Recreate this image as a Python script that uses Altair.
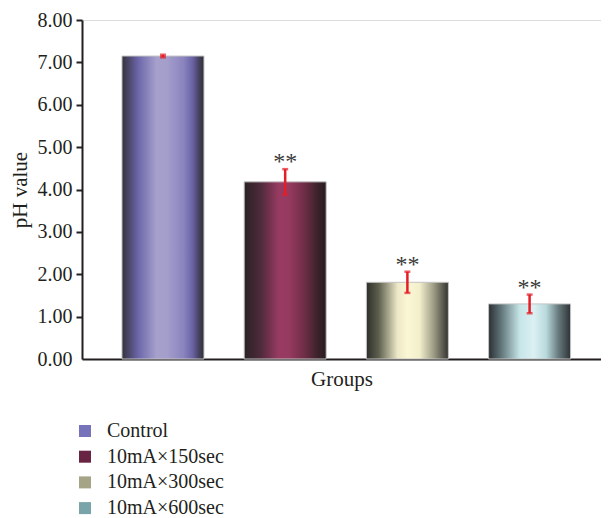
import altair as alt
import pandas as pd

groups = ["Control", "10mA×150sec", "10mA×300sec", "10mA×600sec"]
values = [7.15, 4.18, 1.81, 1.30]
errors = [0.03, 0.30, 0.25, 0.22]
stars = ["", "**", "**", "**"]
legend_colors = ["#7773BA", "#6A2443", "#A5A487", "#79A4AA"]

gradient_stops = [
    [(0, "#35333d"), (0.08, "#4a4668"), (0.2, "#6d67ab"), (0.42, "#a6a0cd"), (0.55, "#a49ecb"),
     (0.75, "#8a84bf"), (0.86, "#6a64a6"), (0.94, "#45415e"), (1, "#302f36")],
    [(0, "#2a2226"), (0.2, "#4e2a3a"), (0.42, "#983b62"), (0.55, "#963a60"), (0.75, "#6a2c44"),
     (0.9, "#3a2229"), (1, "#271c21")],
    [(0, "#2d2f2a"), (0.15, "#5e5f4e"), (0.38, "#ece8c8"), (0.5, "#fbf7d4"), (0.65, "#f2efcc"),
     (0.82, "#9e9c86"), (1, "#33332f")],
    [(0, "#2b2f33"), (0.15, "#5f7478"), (0.38, "#c6e5e7"), (0.55, "#dcf0f3"), (0.7, "#b9dadd"),
     (0.85, "#687b7e"), (1, "#2d3236")],
]

FONT = "Liberation Serif"
INK = "#231f20"

df = pd.DataFrame({
    "group": groups,
    "value": values,
    "lower": [v - e for v, e in zip(values, errors)],
    "upper": [v + e for v, e in zip(values, errors)],
    "stars": stars,
})

x_enc = alt.X(
    "group:N",
    sort=groups,
    scale=alt.Scale(paddingInner=0.329, paddingOuter=0.288, align=0.568),
    axis=alt.Axis(
        title="Groups", labels=False, ticks=False, domainColor=INK, domainWidth=2,
        titleFont=FONT, titleFontSize=21, titleFontWeight="normal", titleColor=INK,
        titlePadding=9,
    ),
)
y_scale = alt.Scale(domain=[0, 8], nice=False, zero=True)
y_axis = alt.Axis(
    title="pH value", values=[0, 1, 2, 3, 4, 5, 6, 7, 8], format=".2f", grid=False,
    domainColor=INK, domainWidth=2, tickColor=INK, tickWidth=2, tickSize=6,
    tickOpacity={"condition": {"test": "datum.value == 0", "value": 0}, "value": 1},
    labelFont=FONT, labelFontSize=20, labelColor=INK, labelPadding=4,
    titleFont=FONT, titleFontSize=21, titleFontWeight="normal", titleColor=INK,
    titlePadding=7,
)

base = alt.Chart(df)

legend_layer = base.mark_bar(opacity=0).encode(
    x=x_enc,
    y=alt.Y("value:Q", scale=y_scale, axis=y_axis),
    color=alt.Color(
        "group:N", sort=groups,
        scale=alt.Scale(domain=groups, range=legend_colors),
        legend=alt.Legend(
            title=None, orient="none", legendX=-7, legendY=401, direction="vertical",
            symbolType="square", symbolSize=144, symbolOpacity=1, symbolStrokeWidth=0,
            labelFont=FONT, labelFontSize=20, labelColor=INK, labelOffset=12,
            rowPadding=5.7, padding=0,
        ),
    ),
)

layers = [legend_layer]
for g, stops in zip(groups, gradient_stops):
    grad = alt.Gradient(
        gradient="linear",
        stops=[alt.GradientStop(offset=o, color=c) for o, c in stops],
        x1=0, x2=1, y1=0, y2=0,
    )
    layers.append(
        base.transform_filter(alt.datum.group == g)
        .mark_bar(fill=grad, stroke="#c4c4c4", strokeWidth=1)
        .encode(x=alt.X("group:N", sort=groups), y=alt.Y("value:Q", scale=y_scale))
    )

err_rule = base.mark_rule(color="#e41e26", strokeWidth=2.5).encode(
    x=alt.X("group:N", sort=groups), y=alt.Y("lower:Q", scale=y_scale), y2="upper:Q"
)
cap_hi = base.mark_tick(color="#e41e26", size=6, thickness=2.5, orient="horizontal").encode(
    x=alt.X("group:N", sort=groups), y=alt.Y("upper:Q", scale=y_scale)
)
cap_lo = base.mark_tick(color="#e41e26", size=6, thickness=2.5, orient="horizontal").encode(
    x=alt.X("group:N", sort=groups), y=alt.Y("lower:Q", scale=y_scale)
)
star_text = base.mark_text(
    font=FONT, fontSize=24, color="#3a3a3a", baseline="alphabetic", dy=0
).encode(
    x=alt.X("group:N", sort=groups), y=alt.Y("upper:Q", scale=y_scale), text="stars:N"
)
layers += [err_rule, cap_hi, cap_lo, star_text]

chart = alt.layer(*layers).properties(
    width=519, height=339,
    autosize=alt.AutoSizeParams(type="none"),
    padding={"left": 74, "top": 12, "right": 0, "bottom": 160},
).configure_view(stroke=None).configure(background="white")

chart.save("out.html", embed_options={"renderer": "svg", "actions": False})
